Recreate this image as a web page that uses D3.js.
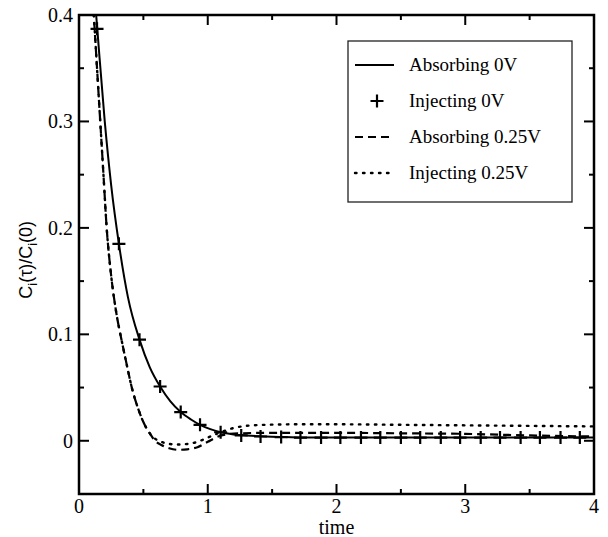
<!DOCTYPE html>
<html>
<head>
<meta charset="utf-8">
<script src="https://cdn.jsdelivr.net/npm/d3@7"></script>
<style>
  body { margin: 0; background: #fff; }
  svg { display: block; }
  .tick-label { font-family: 'Liberation Serif', 'Times New Roman', serif; font-size: 20px; }
  .legend-label { font-family: 'Liberation Serif', 'Times New Roman', serif; font-size: 19px; }
</style>
</head>
<body>
<div id="chart"></div>
<script>
// Absorbing 0V (solid)
const absorb0T = [0.10, 0.14, 0.2, 0.25, 0.31, 0.38, 0.47, 0.55, 0.63, 0.71, 0.79, 0.87, 0.94, 1.02, 1.1, 1.2, 1.3, 1.45, 1.6, 1.8, 2.0, 2.5, 3.0, 3.5, 4.0]
const absorb0V = [0.45, 0.39, 0.30, 0.24, 0.185, 0.135, 0.095, 0.069, 0.051, 0.037, 0.027, 0.020, 0.015, 0.011, 0.008, 0.006, 0.005, 0.004, 0.0035, 0.003, 0.003, 0.003, 0.003, 0.003, 0.003]

// Injecting 0V (plus markers)
const inject0T = [0.14, 0.31, 0.47, 0.63, 0.79, 0.94, 1.1, 1.26, 1.41, 1.57, 1.72, 1.88, 2.03, 2.19, 2.34, 2.5, 2.65, 2.81, 2.96, 3.12, 3.27, 3.43, 3.58, 3.74, 3.89]
const inject0V = [0.387, 0.185, 0.095, 0.051, 0.027, 0.015, 0.008, 0.005, 0.004, 0.0035, 0.003, 0.003, 0.003, 0.003, 0.003, 0.003, 0.003, 0.003, 0.003, 0.003, 0.003, 0.003, 0.003, 0.003, 0.003]

// Absorbing 0.25V (dashed)
const absorb25T = [0.10, 0.13, 0.165, 0.19, 0.215, 0.25, 0.29, 0.33, 0.37, 0.41, 0.46, 0.51, 0.55, 0.59, 0.64, 0.7, 0.77, 0.84, 0.92, 1.0, 1.08, 1.15, 1.25, 1.5, 2.0, 2.5, 3.0, 3.5, 4.0]
const absorb25V = [0.43, 0.37, 0.30, 0.25, 0.20, 0.155, 0.12, 0.095, 0.072, 0.05, 0.030, 0.015, 0.007, 0.0, -0.004, -0.007, -0.0085, -0.008, -0.006, -0.001, 0.004, 0.006, 0.007, 0.0075, 0.0075, 0.007, 0.0065, 0.005, 0.004]

// Injecting 0.25V (dotted)
const inject25T = [0.10, 0.13, 0.165, 0.19, 0.215, 0.25, 0.29, 0.33, 0.37, 0.41, 0.46, 0.51, 0.55, 0.59, 0.64, 0.7, 0.77, 0.84, 0.92, 1.0, 1.1, 1.2, 1.3, 1.45, 1.7, 2.0, 2.5, 3.0, 3.5, 4.0]
const inject25V = [0.43, 0.37, 0.30, 0.25, 0.20, 0.155, 0.12, 0.095, 0.072, 0.05, 0.030, 0.015, 0.007, 0.002, -0.001, -0.003, -0.0035, -0.003, -0.001, 0.003, 0.008, 0.012, 0.014, 0.015, 0.0155, 0.0155, 0.015, 0.0145, 0.014, 0.0135]

const xTicks = [0, 1, 2, 3, 4]
const yTicks = [0, 0.1, 0.2, 0.3, 0.4]
const legendLabels = ['Absorbing 0V', 'Injecting 0V', 'Absorbing 0.25V', 'Injecting 0.25V']

const width = 608
const height = 537
const margin = { top: 15, left: 79, right: 14, bottom: 43 }
const innerW = width - margin.left - margin.right
const innerH = height - margin.top - margin.bottom

const svg = d3
  .select('#chart')
  .append('svg')
  .attr('width', width)
  .attr('height', height)

const g = svg.append('g').attr('transform', `translate(${margin.left},${margin.top})`)

const x = d3.scaleLinear().domain([0, 4]).range([0, innerW])
const y = d3.scaleLinear().domain([-0.05, 0.4]).range([innerH, 0])

g.append('clipPath')
  .attr('id', 'clip')
  .append('rect')
  .attr('width', innerW)
  .attr('height', innerH)

const zip = (ts, vs) => ts.map((t, i) => [t, vs[i]])
const line = d3.line().x(d => x(d[0])).y(d => y(d[1])).curve(d3.curveMonotoneX)

const plot = g.append('g').attr('clip-path', 'url(#clip)')

plot.append('path')
  .attr('d', line(zip(inject25T, inject25V)))
  .attr('fill', 'none').attr('stroke', '#000').attr('stroke-width', 2.4)
  .attr('stroke-dasharray', '1.5,6.5').attr('stroke-linecap', 'round')

plot.append('path')
  .attr('d', line(zip(absorb25T, absorb25V)))
  .attr('fill', 'none').attr('stroke', '#000').attr('stroke-width', 2.2)
  .attr('stroke-dasharray', '8,5')

plot.append('path')
  .attr('d', line(zip(absorb0T, absorb0V)))
  .attr('fill', 'none').attr('stroke', '#000').attr('stroke-width', 2)

plot.selectAll('.plus')
  .data(zip(inject0T, inject0V))
  .enter()
  .append('path')
  .attr('class', 'plus')
  .attr('transform', d => `translate(${x(d[0])},${y(d[1])})`)
  .attr('d', 'M-6.5,0H6.5M0,-6.5V6.5')
  .attr('stroke', '#000').attr('stroke-width', 2.2)

// frame with inward ticks on all four sides
g.append('rect')
  .attr('width', innerW).attr('height', innerH)
  .attr('fill', 'none').attr('stroke', '#000').attr('stroke-width', 2.5)

function ticks(vals, len, horizontal) {
  vals.forEach(v => {
    if (horizontal) {
      g.append('line').attr('x1', x(v)).attr('x2', x(v)).attr('y1', innerH).attr('y2', innerH - len)
        .attr('stroke', '#000').attr('stroke-width', 2)
      g.append('line').attr('x1', x(v)).attr('x2', x(v)).attr('y1', 0).attr('y2', len)
        .attr('stroke', '#000').attr('stroke-width', 2)
    } else {
      g.append('line').attr('x1', 0).attr('x2', len).attr('y1', y(v)).attr('y2', y(v))
        .attr('stroke', '#000').attr('stroke-width', 2)
      g.append('line').attr('x1', innerW).attr('x2', innerW - len).attr('y1', y(v)).attr('y2', y(v))
        .attr('stroke', '#000').attr('stroke-width', 2)
    }
  })
}
ticks(xTicks.slice(1, -1), 10, true)
ticks([0.5, 1.5, 2.5, 3.5], 5, true)
ticks(yTicks.slice(0, -1), 10, false)
ticks([0.05, 0.15, 0.25, 0.35], 5, false)

g.selectAll('.xl')
  .data(xTicks)
  .enter()
  .append('text')
  .attr('class', 'tick-label')
  .attr('x', d => x(d))
  .attr('y', innerH + 19)
  .attr('text-anchor', 'middle')
  .text(d => d)

g.selectAll('.yl')
  .data(yTicks)
  .enter()
  .append('text')
  .attr('class', 'tick-label')
  .attr('x', -6)
  .attr('y', d => y(d) + 7)
  .attr('text-anchor', 'end')
  .text(d => d === 0 ? '0' : d3.format('.1f')(d))

svg.append('text')
  .attr('class', 'tick-label')
  .attr('x', margin.left + x(2))
  .attr('y', 534)
  .attr('text-anchor', 'middle')
  .text('time')

const ylab = svg.append('text')
  .attr('transform', `translate(32,${margin.top + y(0.17)}) rotate(-90)`)
  .attr('text-anchor', 'middle')
  .style('font-family', "'Liberation Sans', Arial, sans-serif")
  .style('font-size', '18px')
ylab.append('tspan').text('C')
ylab.append('tspan').text('i').attr('dy', 5).style('font-size', '13px')
ylab.append('tspan').text('(τ)/C').attr('dy', -5)
ylab.append('tspan').text('i').attr('dy', 5).style('font-size', '13px')
ylab.append('tspan').text('(0)').attr('dy', -5)

// legend
const legend = svg.append('g').attr('class', 'legend')
legend.append('rect')
  .attr('x', 348).attr('y', 41).attr('width', 224).attr('height', 161)
  .attr('fill', '#fff').attr('stroke', '#222').attr('stroke-width', 1.3)

const styles = [
  { dash: null, w: 2 },
  { plus: true },
  { dash: '8,5', w: 2.2 },
  { dash: '1.5,6.5', w: 2.4, cap: 'round' }
]
legend.selectAll('.legend-row')
  .data(legendLabels)
  .enter()
  .append('g')
  .attr('class', 'legend-row')
  .attr('transform', (d, i) => `translate(0,${65 + i * 36})`)
  .each(function(d, i) {
    const row = d3.select(this)
    const s = styles[i]
    if (s.plus) {
      row.append('path').attr('d', 'M370.5,0H383.5M377,-6.5V6.5')
        .attr('stroke', '#000').attr('stroke-width', 2.2)
    } else {
      row.append('line').attr('x1', 355).attr('x2', 394).attr('y1', 0).attr('y2', 0)
        .attr('stroke', '#000').attr('stroke-width', s.w)
        .attr('stroke-dasharray', s.dash)
        .attr('stroke-linecap', s.cap || 'butt')
    }
    row.append('text')
      .attr('class', 'legend-label')
      .attr('x', 409)
      .attr('y', 6)
      .text(d)
  })
</script>
</body>
</html>
